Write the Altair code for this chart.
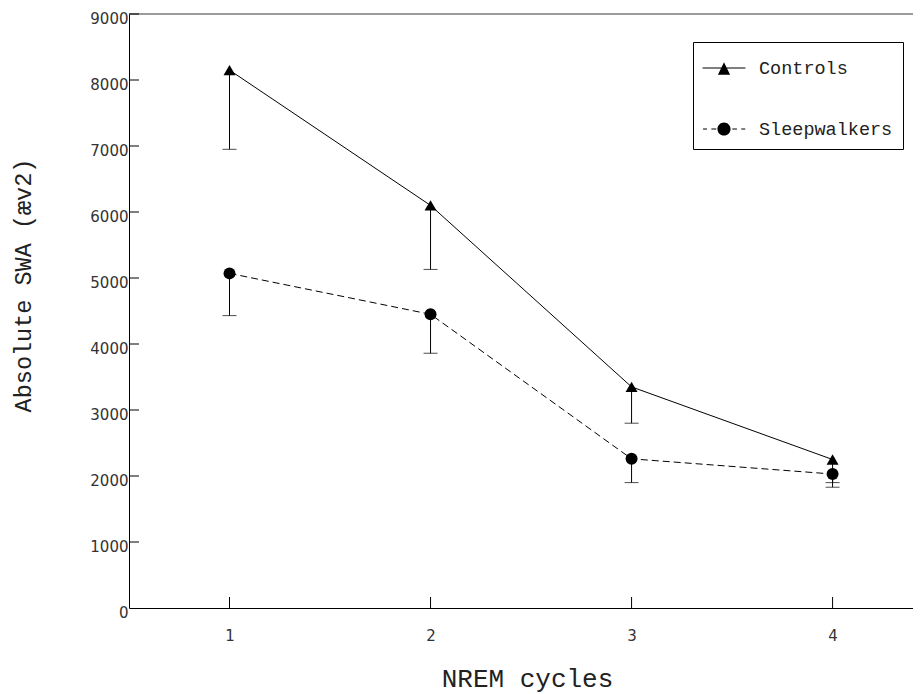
import altair as alt
import pandas as pd

# ---- data ----
cycles = [1, 2, 3, 4]
groups = ["Controls", "Sleepwalkers"]
controls_mean = [8150, 6100, 3350, 2250]
controls_lower = [6950, 5130, 2800, 1900]
sleep_mean = [5070, 4450, 2260, 2030]
sleep_lower = [4430, 3860, 1900, 1830]
y_tick_values = [0, 1000, 2000, 3000, 4000, 5000, 6000, 7000, 8000, 9000]
x_tick_values = [1, 2, 3, 4]

rows = []
for c, m, lo in zip(cycles, controls_mean, controls_lower):
    rows.append({"cycle": c, "group": "Controls", "mean": m, "lower": lo})
for c, m, lo in zip(cycles, sleep_mean, sleep_lower):
    rows.append({"cycle": c, "group": "Sleepwalkers", "mean": m, "lower": lo})
df = pd.DataFrame(rows)

W, H = 784, 594
yscale = alt.Scale(domain=[0, 9000], nice=False, zero=False)
xscale = alt.Scale(domain=[0.5, 4.4], nice=False, zero=False)

yaxis = alt.Axis(
    values=y_tick_values, format="d", grid=False, ticks=False, tickSize=0,
    labelPadding=1, labelOffset=4, labelFont="DejaVu Sans", labelFontSize=15,
    labelColor="#333333", domainColor="black", domainWidth=1,
    title="Absolute SWA (æv2)", titleFont="Liberation Mono", titleFontSize=23.5,
    titleFontWeight="normal", titleColor="#222222", titleAngle=270,
    titleX=-106, titleY=271, titleAlign="center", titleBaseline="middle",
)
xaxis = alt.Axis(
    values=x_tick_values, format="d", grid=False, ticks=False, tickSize=0,
    labelPadding=20, labelFont="DejaVu Sans", labelFontSize=15,
    labelColor="#333333", domainColor="black", domainWidth=1,
    title="NREM cycles", titleFont="Liberation Mono", titleFontSize=26,
    titleFontWeight="normal", titleColor="#222222",
    titleX=398, titleY=70, titleAlign="center", titleBaseline="middle",
)


def X(field):
    return alt.X(field, type="quantitative", scale=xscale, axis=xaxis)


def Y(field):
    return alt.Y(field, type="quantitative", scale=yscale, axis=yaxis)


base = alt.Chart(df)

line_c = base.transform_filter(alt.datum.group == "Controls").mark_line(
    color="black", strokeWidth=1
).encode(x=X("cycle"), y=Y("mean"))

line_s = base.transform_filter(alt.datum.group == "Sleepwalkers").mark_line(
    color="black", strokeWidth=1, strokeDash=[7, 4]
).encode(x=X("cycle"), y=Y("mean"))

err = base.mark_rule(color="black", strokeWidth=1).encode(
    x=X("cycle"), y=Y("mean"), y2="lower"
)
caps = base.mark_tick(color="black", orient="horizontal", size=14, thickness=1).encode(
    x=X("cycle"), y=Y("lower")
)

pts_c = base.transform_filter(alt.datum.group == "Controls").mark_point(
    shape="triangle-up", filled=True, color="black", size=144, opacity=1, strokeWidth=0
).encode(x=X("cycle"), y=Y("mean"))
pts_s = base.transform_filter(alt.datum.group == "Sleepwalkers").mark_point(
    shape="circle", filled=True, color="black", size=144, opacity=1, strokeWidth=0
).encode(x=X("cycle"), y=Y("mean"))

# top frame line
top_line = alt.Chart(pd.DataFrame({"v": [9000]})).mark_rule(
    color="#7a7a7a", strokeWidth=1.5
).encode(y=Y("v"))

# inward ticks
ytick_df = pd.DataFrame({"t": y_tick_values[1:]})
yticks = alt.Chart(ytick_df).mark_rule(color="black", strokeWidth=1).encode(
    y=Y("t"), x=alt.value(0), x2=alt.value(10)
)
xtick_df = pd.DataFrame({"c": x_tick_values})
xticks = alt.Chart(xtick_df).mark_rule(color="black", strokeWidth=1).encode(
    x=X("c"), y=alt.value(H), y2=alt.value(H - 11)
)


# legend symbols: line (thin filled bars) + marker as custom paths
def bar(a, b, h=0.032):
    return f"M{a},{-h}L{b},{-h}L{b},{h}L{a},{h}Z"


path_controls = bar(-1.34, 1.34) + "M0,-0.36L0.38,0.42L-0.38,0.42Z"
path_sleep = (bar(-1.31, -1.06) + bar(-0.79, -0.48) + bar(0.52, 0.81) + bar(1.08, 1.33)
              + "M-0.41,0A0.41,0.41 0 1,0 0.41,0A0.41,0.41 0 1,0 -0.41,0Z")
leg_df = pd.DataFrame({"group": groups, "cycle": [1, 1], "mean": [-2000, -2000]})
legend_layer = alt.Chart(leg_df).mark_point(
    filled=True, color="black", strokeWidth=0, size=1024, opacity=1, clip=True
).encode(
    x=X("cycle"), y=Y("mean"),
    shape=alt.Shape(
        "group:N",
        scale=alt.Scale(domain=groups, range=[path_controls, path_sleep]),
        legend=alt.Legend(
            title=None, orient="none", legendX=564, legendY=28, padding=10,
            strokeColor="black", fillColor="white", rowPadding=35,
            symbolSize=1024, symbolOffset=5, labelOffset=19,
            symbolFillColor="black", symbolStrokeWidth=0,
            labelFont="Liberation Mono", labelFontSize=18.5, labelColor="#222222",
        ),
    ),
)

chart = alt.layer(
    top_line, yticks, xticks, line_c, line_s, err, caps, pts_c, pts_s, legend_layer
).properties(
    width=W, height=H,
    autosize=alt.AutoSizeParams(type="none"),
    padding={"left": 121, "top": 6, "right": 0, "bottom": 86},
).configure_view(stroke=None)

chart.save("out.html", embed_options={"renderer": "svg", "actions": False})
